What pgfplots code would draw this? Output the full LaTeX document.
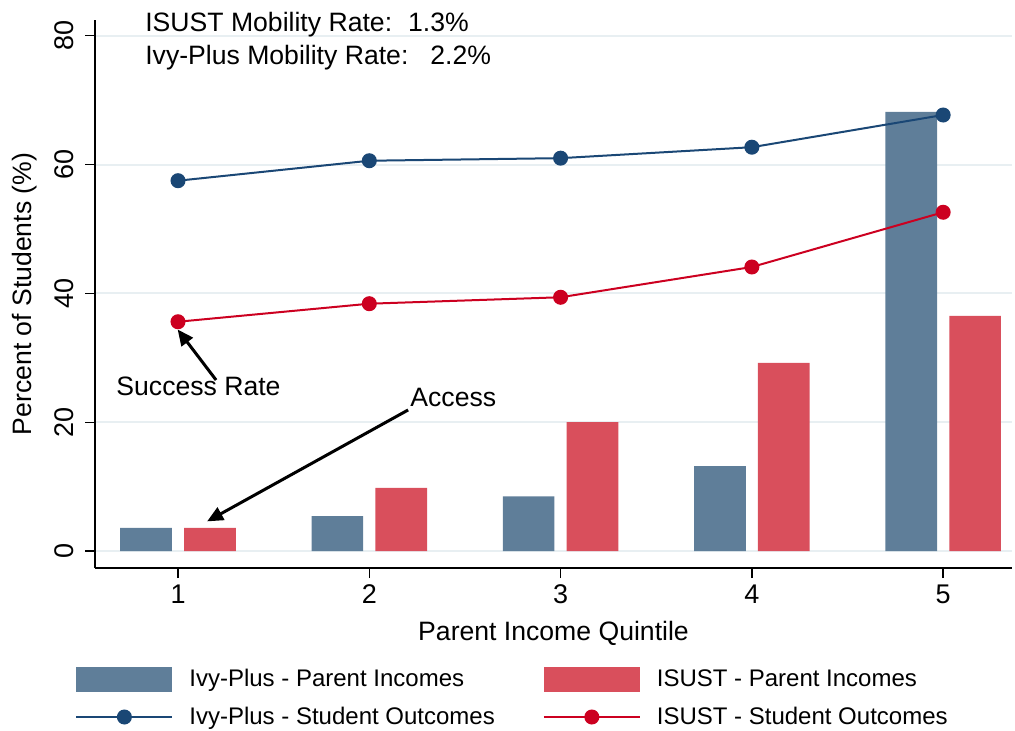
\documentclass[border=0pt]{standalone}
\usepackage{pgfplots}
\pgfplotsset{compat=1.18}
\usepackage{fontspec}
\setmainfont{Liberation Sans}
\usetikzlibrary{arrows.meta}
\definecolor{ivybar}{HTML}{5F7E99}
\definecolor{isubar}{HTML}{D94F5C}
\definecolor{ivyline}{HTML}{1A4775}
\definecolor{isuline}{HTML}{CC0020}
\definecolor{gridc}{HTML}{E8EFF2}
\begin{document}
\begin{tikzpicture}
\begin{axis}[
  at={(0,0)}, anchor=south west,
  scale only axis, width=458.5pt, height=274pt,
  xmin=0.566, xmax=5.36, ymin=-2.64, ymax=82.45,
  axis x line*=bottom, axis y line*=left,
  axis line style={black, line width=0.7pt, -},
  xtick={1,2,3,4,5}, ytick={0,20,40,60,80},
  /pgf/number format/assume math mode=true,
  tick style={black, line width=0.7pt}, major tick length=5pt, tick align=outside,
  ymajorgrids, grid style={gridc, line width=1pt},
  ticklabel style={font=\fontsize{13.5}{16}\selectfont},
  yticklabel style={rotate=90, anchor=south},
  yticklabel shift=2pt,
  xlabel={Parent Income Quintile}, ylabel={Percent of Students (\%)},
  xlabel shift=1.5pt, ylabel shift=2pt,
  label style={font=\fontsize{13.3}{16}\selectfont},
  clip=false,
  legend columns=2,
  legend cell align=left,
  legend style={draw=none, fill=none, at={(-13pt,-46.5pt)}, anchor=north west,
    font=\fontsize{12}{14}\selectfont, row sep=4.5pt,
    /tikz/every even column/.append style={column sep=22pt}},
]
\addplot[ybar, bar width=0.27, bar shift=-0.167, fill=ivybar, draw=none,
  legend image code/.code={\fill[ivybar] (0pt,-6.25pt) rectangle (48pt,6.25pt); \path (54pt,0pt);}]
  coordinates {(1,3.6) (2,5.4) (3,8.5) (4,13.2) (5,68.2)};
\addlegendentry{Ivy-Plus - Parent Incomes}
\addplot[ybar, bar width=0.27, bar shift=0.167, fill=isubar, draw=none,
  legend image code/.code={\fill[isubar] (0pt,-6.25pt) rectangle (48pt,6.25pt); \path (54pt,0pt);}]
  coordinates {(1,3.6) (2,9.8) (3,20.0) (4,29.2) (5,36.5)};
\addlegendentry{ISUST - Parent Incomes}
\addplot[ivyline, line width=1pt, mark=*, mark size=3.25pt, mark options={fill=ivyline, draw=ivyline},
  legend image code/.code={\draw[ivyline, line width=1pt] (0pt,0pt) -- (48pt,0pt); \fill[ivyline] (24pt,0pt) circle (3.25pt); \path (54pt,0pt);}]
  coordinates {(1,57.5) (2,60.6) (3,61.0) (4,62.7) (5,67.7)};
\addlegendentry{Ivy-Plus - Student Outcomes}
\addplot[isuline, line width=1pt, mark=*, mark size=3.25pt, mark options={fill=isuline, draw=isuline},
  legend image code/.code={\draw[isuline, line width=1pt] (0pt,0pt) -- (48pt,0pt); \fill[isuline] (24pt,0pt) circle (3.25pt); \path (54pt,0pt);}]
  coordinates {(1,35.6) (2,38.4) (3,39.4) (4,44.1) (5,52.6)};
\addlegendentry{ISUST - Student Outcomes}
\node[anchor=base west, font=\fontsize{13.3}{16}\selectfont, inner sep=0pt] at (axis cs:0.827,80.6) {ISUST Mobility Rate:\hspace{8pt}1.3\%};
\node[anchor=base west, font=\fontsize{13.3}{16}\selectfont, inner sep=0pt] at (axis cs:0.827,75.6) {Ivy-Plus Mobility Rate:\hspace{11pt}2.2\%};
\node[anchor=base west, font=\fontsize{13.3}{16}\selectfont, inner sep=0pt] at (axis cs:0.676,24.2) {Success Rate};
\node[anchor=base west, font=\fontsize{13.3}{16}\selectfont, inner sep=0pt] at (axis cs:2.213,22.5) {Access};
\draw[black, line width=1.5pt, -{Triangle[length=8pt,width=7pt]}] (axis cs:1.199,26.55) -- (axis cs:0.998,34.4);
\draw[black, line width=1.5pt, -{Triangle[length=8pt,width=7pt]}] (axis cs:2.203,21.9) -- (axis cs:1.152,4.6);
\end{axis}
\pgfresetboundingbox
\path (-47.5pt,-81pt) rectangle (460pt,284pt);
\end{tikzpicture}
\end{document}
